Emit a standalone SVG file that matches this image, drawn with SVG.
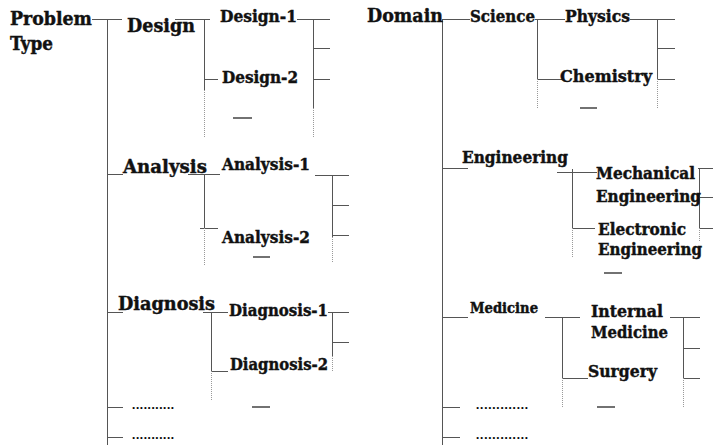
<svg xmlns="http://www.w3.org/2000/svg" width="713" height="445" viewBox="0 0 713 445">
  <style>
    .t { font-family: "DejaVu Serif", "Liberation Serif", serif; font-weight: bold; fill: #111; stroke: #111; stroke-width: 0.45; }
    .l { font-size: 19px; }
    .m { font-size: 17px; }
    .n { font-size: 16px; }
    .s { font-size: 14px; }
    .dots { font-family: "Liberation Serif", serif; font-weight: bold; font-size: 13px; fill: #000; }
    .ln { stroke: #555; stroke-width: 1; fill: none; }
    .dt { stroke: #999; stroke-width: 1; stroke-dasharray: 1 1; fill: none; }
    .dash { stroke: #444; stroke-width: 1.5; }
  </style>
  <rect width="713" height="445" fill="#fff"/>

  <!-- connectors -->
  <g id="connectors">
    <!-- Problem Type tree -->
    <path class="ln" d="M92 19.5H122 M107.5 19V445 M175 19.5H210 M204.5 19V90 M297 19.5H330 M313.5 19V108 M313 48.5H330 M313 79.5H330 M204 79.5H218"/>
    <path class="dt" d="M204.5 90V138 M313.5 108V138"/>
    <path class="ln" d="M107 174.5H123 M188 174.5H220 M204.5 174V228 M200 228.5H218 M315 175.5H349 M332.5 175V237 M332 205.5H349 M332 235.5H349"/>
    <path class="dt" d="M204.5 228V265 M332.5 237V263"/>
    <path class="ln" d="M107 312.5H123 M203 312.5H228 M211.5 312V371 M211 371.5H228 M328 312.5H349 M332.5 312V356 M332 342.5H349 M107 407.5H123 M107 437.5H123"/>
    <path class="dt" d="M211.5 371V400 M332.5 356V372"/>
    <!-- Domain tree -->
    <path class="ln" d="M443 19.5H470 M442.5 19V445 M535 19.5H565 M537.5 19V79 M630 19.5H675 M657.5 19V79 M657 48.5H675 M657 79.5H675 M537 79.5H562"/>
    <path class="dt" d="M537.5 79V108 M657.5 79V108"/>
    <path class="ln" d="M442 168.5H468 M557 172.5H597 M572.5 169V228 M572 228.5H595 M698 168.5H713 M699.5 168V228 M699 197.5H713 M699 228.5H713"/>
    <path class="dt" d="M572.5 228V258 M699.5 228V242"/>
    <path class="ln" d="M442 317.5H468 M545 317.5H580 M562.5 317V378 M670 317.5H700 M683.5 317V378 M683 348.5H700 M683 378.5H700 M562 378.5H588 M442 407.5H460 M442 437.5H460"/>
    <path class="dt" d="M562.5 378V407 M683.5 378V407"/>
    <!-- short dashes under each branch -->
    <path class="dash" d="M233 118H252 M253 257H270 M252 407H270 M580 108H597 M604 273H622 M597 407H615"/>
  </g>

  <!-- Problem Type -->
  <g id="problem-type">
    <text class="t l" x="10" y="25" textLength="82" lengthAdjust="spacingAndGlyphs">Problem</text>
    <text class="t l" x="10" y="50" textLength="43" lengthAdjust="spacingAndGlyphs">Type</text>
  </g>
  <g id="design"><text class="t l" x="127" y="32" textLength="68" lengthAdjust="spacingAndGlyphs">Design</text></g>
  <g id="design-1"><text class="t m" x="220" y="22" textLength="77" lengthAdjust="spacingAndGlyphs">Design-1</text></g>
  <g id="design-2"><text class="t m" x="222" y="83" textLength="76" lengthAdjust="spacingAndGlyphs">Design-2</text></g>
  <g id="analysis"><text class="t l" x="123" y="173" textLength="84" lengthAdjust="spacingAndGlyphs">Analysis</text></g>
  <g id="analysis-1"><text class="t m" x="222" y="170" textLength="88" lengthAdjust="spacingAndGlyphs">Analysis-1</text></g>
  <g id="analysis-2"><text class="t m" x="222" y="243" textLength="88" lengthAdjust="spacingAndGlyphs">Analysis-2</text></g>
  <g id="diagnosis"><text class="t l" x="118" y="310" textLength="97" lengthAdjust="spacingAndGlyphs">Diagnosis</text></g>
  <g id="diagnosis-1"><text class="t m" x="229" y="316" textLength="99" lengthAdjust="spacingAndGlyphs">Diagnosis-1</text></g>
  <g id="diagnosis-2"><text class="t m" x="230" y="370" textLength="98" lengthAdjust="spacingAndGlyphs">Diagnosis-2</text></g>
  <g id="type-more-1"><text class="dots" x="132" y="409" textLength="42" lengthAdjust="spacing">...........</text></g>
  <g id="type-more-2"><text class="dots" x="132" y="439" textLength="42" lengthAdjust="spacing">...........</text></g>

  <!-- Domain -->
  <g id="domain"><text class="t l" x="367" y="22" textLength="76" lengthAdjust="spacingAndGlyphs">Domain</text></g>
  <g id="science"><text class="t m" x="470" y="22" textLength="65" lengthAdjust="spacingAndGlyphs">Science</text></g>
  <g id="physics"><text class="t m" x="565" y="22" textLength="65" lengthAdjust="spacingAndGlyphs">Physics</text></g>
  <g id="chemistry"><text class="t m" x="560" y="82" textLength="92" lengthAdjust="spacingAndGlyphs">Chemistry</text></g>
  <g id="engineering"><text class="t m" x="462" y="163" textLength="106" lengthAdjust="spacingAndGlyphs">Engineering</text></g>
  <g id="mechanical-engineering">
    <text class="t n" x="596" y="179" textLength="99" lengthAdjust="spacingAndGlyphs">Mechanical</text>
    <text class="t n" x="596" y="202" textLength="105" lengthAdjust="spacingAndGlyphs">Engineering</text>
  </g>
  <g id="electronic-engineering">
    <text class="t n" x="598" y="235" textLength="88" lengthAdjust="spacingAndGlyphs">Electronic</text>
    <text class="t n" x="598" y="255" textLength="104" lengthAdjust="spacingAndGlyphs">Engineering</text>
  </g>
  <g id="medicine"><text class="t s" x="470" y="313" textLength="68" lengthAdjust="spacingAndGlyphs">Medicine</text></g>
  <g id="internal-medicine">
    <text class="t m" x="591" y="317" textLength="72" lengthAdjust="spacingAndGlyphs">Internal</text>
    <text class="t m" x="591" y="338" textLength="77" lengthAdjust="spacingAndGlyphs">Medicine</text>
  </g>
  <g id="surgery"><text class="t m" x="588" y="377" textLength="69" lengthAdjust="spacingAndGlyphs">Surgery</text></g>
  <g id="domain-more-1"><text class="dots" x="476" y="409" textLength="52" lengthAdjust="spacing">.............</text></g>
  <g id="domain-more-2"><text class="dots" x="476" y="439" textLength="52" lengthAdjust="spacing">.............</text></g>
</svg>
